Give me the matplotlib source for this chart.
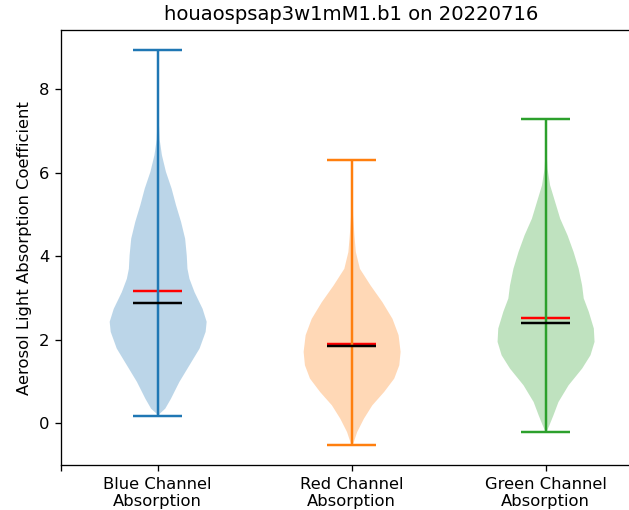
import matplotlib
matplotlib.use('Agg')
import matplotlib.pyplot as plt

labels = ['Blue Channel\nAbsorption', 'Red Channel\nAbsorption', 'Green Channel\nAbsorption']
colors = ['C0', 'C1', 'C2']

# density profile: y levels and relative half widths
blue_y = [0.18, 0.25, 0.36, 0.6, 1.0, 1.4, 1.8, 2.2, 2.44, 2.75, 3.15, 3.47, 3.71, 4.03, 4.43,
          4.83, 5.23, 5.63, 6.03, 6.43, 6.8, 7.2, 8.94]
blue_w = [0, 2, 7, 12.7, 21, 31, 41, 47, 48, 44, 36, 31, 29, 28.3, 26.7,
          22.7, 17.7, 13.3, 7.7, 3.7, 1.5, 0.7, 0]
red_y = [-0.53, -0.44, -0.2, 0.12, 0.44, 0.76, 1.08, 1.4, 1.72, 2.12, 2.51, 2.91, 3.31, 3.71,
         4.11, 4.51, 5.0, 5.6, 6.31]
red_w = [0, 1.7, 5, 11.7, 20, 31.7, 41.7, 46.7, 48, 46, 40, 30, 18.3, 7.7,
         3.7, 2.3, 1, 0.5, 0]
green_y = [-0.22, -0.04, 0.2, 0.52, 0.92, 1.32, 1.64, 1.96, 2.28, 2.68, 3.0, 3.31, 3.71, 4.11,
           4.51, 4.91, 5.31, 5.71, 6.1, 6.5, 7.29]
green_w = [0, 3.3, 7.3, 12.3, 22.3, 35.7, 44, 48, 47.3, 42.3, 37.3, 35.7, 32.3, 27.3,
           21.3, 14, 9, 4, 1.5, 0.5, 0]

means = [3.17, 1.89, 2.51]
medians = [2.87, 1.86, 2.40]
mins = [0.18, -0.53, -0.22]
maxs = [8.94, 6.31, 7.29]

profiles = [(blue_y, blue_w), (red_y, red_w), (green_y, green_w)]

dpi = 118
fig = plt.figure(figsize=(629 / dpi, 510 / dpi), dpi=dpi)
ax = fig.add_axes([0.0965, 0.088, 0.925, 0.853])

for i, (ys, ws) in enumerate(profiles):
    stats = [{'coords': ys, 'vals': ws, 'mean': means[i], 'median': medians[i],
              'min': mins[i], 'max': maxs[i]}]
    parts = ax.violin(stats, positions=[i + 1], showmeans=True, showmedians=True)
    for b in parts['bodies']:
        b.set_facecolor(colors[i])
        b.set_edgecolor(colors[i])
        b.set_alpha(0.3)
        b.set_linewidth(0)
    for k in ['cbars', 'cmins', 'cmaxes']:
        parts[k].set_color(colors[i])
    parts['cmeans'].set_color('red')
    parts['cmedians'].set_color('black')

ax.set_xlim(0.5, 3.5)
ax.set_xticks([0.5, 1, 2, 3])
ax.set_xticklabels([''] + labels)
ax.set_ylabel('Aerosol Light Absorption Coefficient')
ax.set_title('houaospsap3w1mM1.b1 on 20220716')

fig.savefig('out.png', dpi=dpi)
